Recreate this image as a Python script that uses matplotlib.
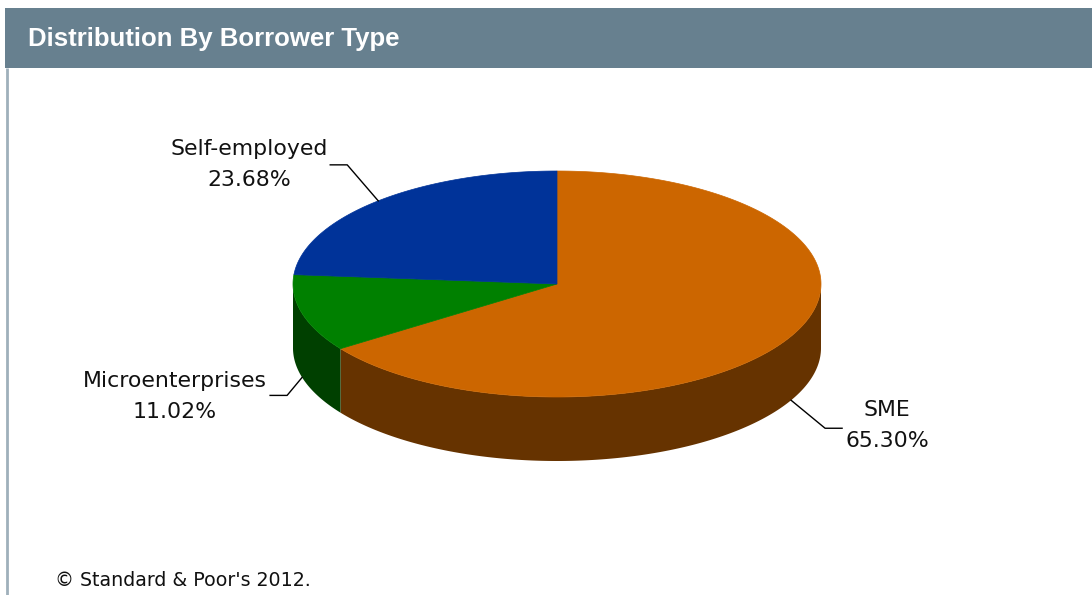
import numpy as np
import matplotlib.pyplot as plt
from matplotlib.patches import Polygon, Rectangle

# ---------------------------------------------- Data
labels = ['SME', 'Microenterprises', 'Self-employed']
shares = [65.30, 11.02, 23.68]
top_colors = ['#cc6600', '#008000', '#003399']
side_colors = ['#663300', '#004000', '#001a4d']
title = 'Distribution By Borrower Type'
credit = "\u00a9 Standard & Poor's 2012."

# ---------------------------------------------- Layout (pixels)
W, H = 1092, 595
cx, cy = 557, 284
rx, ry = 264, 113
depth = 64
# label centre x, first-line y, elbow offset from anchor, tail length
label_pos = {
    'SME': (887, 410, (34, 28), 17),
    'Microenterprises': (175, 381, (-15, 18), -17),
    'Self-employed': (249, 149, (-31, -36), -17),
}

fig = plt.figure(figsize=(W / 100, H / 100), dpi=100)
ax = fig.add_axes([0, 0, 1, 1])
ax.set_xlim(0, W)
ax.set_ylim(H, 0)
ax.axis('off')

# header bar and panel border
ax.add_patch(Rectangle((5, 8), W, 60, facecolor='#67808f', edgecolor='none'))
ax.plot([7, 7], [68, H], color='#9fb0bb', lw=2, solid_capstyle='butt')
ax.text(28, 46, title, color='white', fontsize=18.5, fontweight='bold',
        family=['Liberation Sans Narrow', 'Liberation Sans', 'DejaVu Sans'],
        va='baseline', ha='left')


def ell(t):
    return cx + rx * np.cos(t), cy - ry * np.sin(t)


# slice angles, clockwise from 12 o'clock
fracs = np.array(shares) / np.sum(shares)
ends = 90 - 360 * np.cumsum(fracs)
starts = np.concatenate([[90], ends[:-1]])

# sides (front half only)
for a0, a1, col in zip(starts, ends, side_colors):
    lo, hi = max(a1, -180), min(a0, 0)
    if hi <= lo:
        continue
    t = np.radians(np.linspace(lo, hi, 200))
    x, y = ell(t)
    pts = np.concatenate([np.column_stack([x, y]),
                          np.column_stack([x, y + depth])[::-1]])
    ax.add_patch(Polygon(pts, closed=True, facecolor=col, edgecolor='none'))

# top faces
for a0, a1, col in zip(starts, ends, top_colors):
    t = np.radians(np.linspace(a1, a0, 300))
    x, y = ell(t)
    pts = np.concatenate([[[cx, cy]], np.column_stack([x, y])])
    ax.add_patch(Polygon(pts, closed=True, facecolor=col, edgecolor=col, lw=0.5))

# labels with leader lines
font = dict(fontsize=15.8, family=['DejaVu Sans'], color='#111111')
for name, share, a0, a1 in zip(labels, shares, starts, ends):
    mid = np.radians((a0 + a1) / 2)
    ax_, ay_ = ell(mid)
    if np.sin(mid) < 0:
        ay_ += depth
    lx, ly, (dx, dy), tail = label_pos[name]
    ex, ey = ax_ + dx, ay_ + dy
    ax.plot([ax_, ex, ex + tail], [ay_, ey, ey], color='black', lw=1)
    ax.text(lx, ly, name, ha='center', va='center', **font)
    ax.text(lx, ly + 31, f'{share:.2f}%', ha='center', va='center', **font)

ax.text(55, 586, credit, ha='left', va='baseline', fontsize=13.7,
        family=['DejaVu Sans'], color='#111111')

fig.savefig('out.png', dpi=100, facecolor='white')
